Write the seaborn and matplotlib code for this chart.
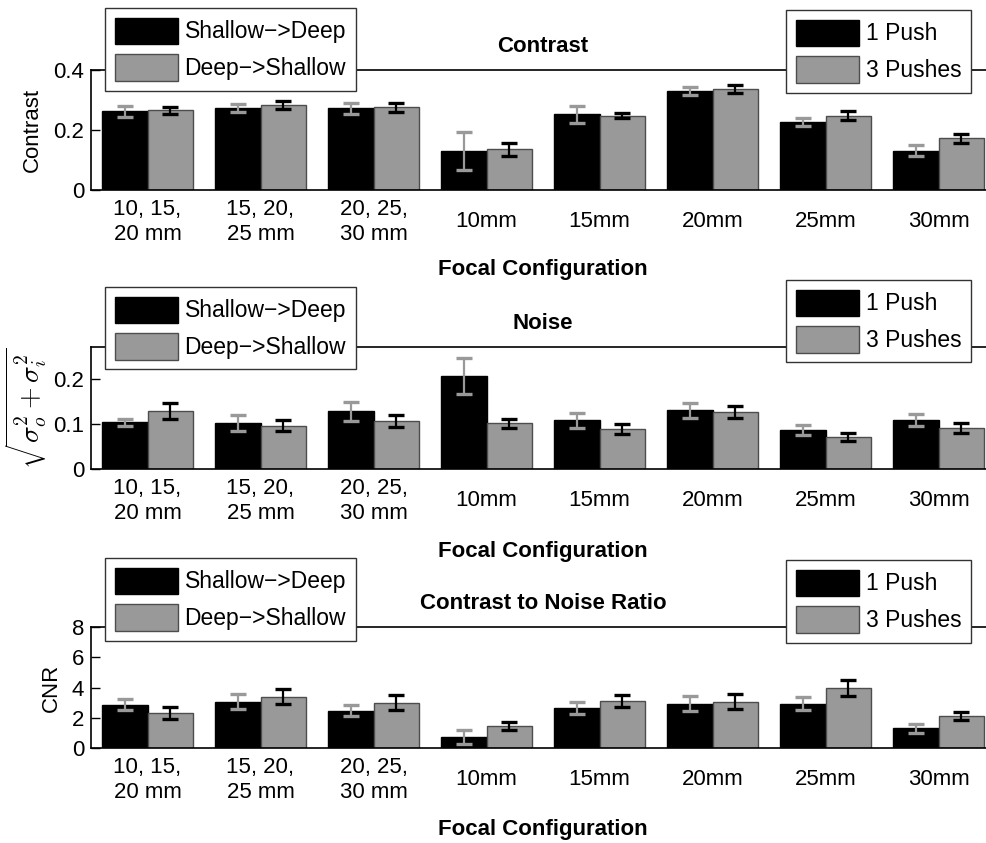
import numpy as np
import pandas as pd
import matplotlib
matplotlib.use("Agg")
import matplotlib.pyplot as plt
from matplotlib.patches import Patch
import seaborn as sns

# ---------------- data ----------------
categories = ['10, 15,\n20 mm', '15, 20,\n25 mm', '20, 25,\n30 mm',
              '10mm', '15mm', '20mm', '25mm', '30mm']

contrast_black = [0.263, 0.274, 0.272, 0.131, 0.252, 0.330, 0.226, 0.131]
contrast_black_err = [0.018, 0.013, 0.018, 0.064, 0.027, 0.013, 0.013, 0.019]
contrast_gray = [0.266, 0.283, 0.276, 0.136, 0.248, 0.337, 0.248, 0.172]
contrast_gray_err = [0.011, 0.013, 0.015, 0.022, 0.009, 0.014, 0.016, 0.014]

noise_black = [0.103, 0.102, 0.128, 0.205, 0.108, 0.130, 0.086, 0.109]
noise_black_err = [0.0074, 0.017, 0.021, 0.040, 0.017, 0.017, 0.011, 0.013]
noise_gray = [0.128, 0.096, 0.106, 0.101, 0.089, 0.126, 0.071, 0.091]
noise_gray_err = [0.018, 0.013, 0.013, 0.010, 0.011, 0.014, 0.0085, 0.011]

cnr_black = [2.85, 3.07, 2.46, 0.72, 2.65, 2.94, 2.92, 1.29]
cnr_black_err = [0.37, 0.52, 0.36, 0.45, 0.38, 0.52, 0.42, 0.30]
cnr_gray = [2.32, 3.38, 3.00, 1.45, 3.11, 3.07, 3.97, 2.13]
cnr_gray_err = [0.39, 0.49, 0.48, 0.26, 0.37, 0.47, 0.52, 0.27]

titles = ['Contrast', 'Noise', 'Contrast to Noise Ratio']
ylabels = ['Contrast', r'$\sqrt{\sigma_o^2+\sigma_i^2}$', 'CNR']
xlabel = 'Focal Configuration'
yticks = [[0, 0.2, 0.4], [0, 0.1, 0.2], [0, 2, 4, 6, 8]]
yticklabels = [['0', '0.2', '0.4'], ['0', '0.1', '0.2'], ['0', '2', '4', '6', '8']]
ylims = [(0, 0.4), (0, 0.27), (0, 8)]
legend_left_labels = ['Shallow\u2212>Deep', 'Deep\u2212>Shallow']
legend_right_labels = ['1 Push', '3 Pushes']
series_names = ['black', 'gray']

panels = [
    (contrast_black, contrast_black_err, contrast_gray, contrast_gray_err),
    (noise_black, noise_black_err, noise_gray, noise_gray_err),
    (cnr_black, cnr_black_err, cnr_gray, cnr_gray_err),
]

# ---------------- style ----------------
sns.set_style('white')
plt.rcParams['font.family'] = ['Liberation Sans', 'DejaVu Sans']
plt.rcParams['mathtext.fontset'] = 'cm'
for key in ['text.color', 'axes.labelcolor', 'xtick.color', 'ytick.color']:
    plt.rcParams[key] = 'black'

BLACK = '#000000'
GRAY = '#999999'
GRAY_EDGE = '#4d4d4d'

TICK_FS = 16
LEG_FS = 16.5
TITLE_FS = 16

W, H = 987, 843
fig = plt.figure(figsize=(W / 100, H / 100), dpi=100)

# axes boxes in pixels: (left, top, width, height)
ax_boxes = [(91, 70, 904, 120), (91, 347, 904, 122), (91, 627, 904, 121)]
# legend top y (pixels)
leg_left_top = [8, 287, 558]
leg_right_top = [10, 280, 560]
xlabel_offset = [80, 82, 81]
ylabel_x = [32, 26, 51]
ylabel_fs = [16, 20, 16]

for k, (bv, be, gv, ge) in enumerate(panels):
    l, t, w, h = ax_boxes[k]
    ax = fig.add_axes([l / W, 1 - (t + h) / H, w / W, h / H])
    df = pd.DataFrame({
        'cat': categories * 2,
        'series': [series_names[0]] * len(categories) + [series_names[1]] * len(categories),
        'value': list(bv) + list(gv),
    })
    sns.barplot(data=df, x='cat', y='value', hue='series', order=categories,
                hue_order=series_names, palette={'black': BLACK, 'gray': GRAY},
                errorbar=None, width=0.8, saturation=1, legend=False, ax=ax,
                linewidth=1.0)
    for cont, ec in zip(ax.containers, [BLACK, GRAY_EDGE]):
        for p in cont:
            p.set_edgecolor(ec)
            p.set_linewidth(1.0)
    # error bars
    for cont, vals, errs, col in zip(ax.containers, [bv, gv], [be, ge], [GRAY, BLACK]):
        xs = [p.get_x() + p.get_width() / 2 for p in cont]
        ax.errorbar(xs, vals, yerr=errs, fmt='none', ecolor=col, elinewidth=1.6,
                    capsize=5.5, capthick=2.4, zorder=5)

    ax.set_xlim(-0.5, len(categories) - 0.5)
    ax.set_ylim(*ylims[k])
    ax.set_yticks(yticks[k])
    ax.set_yticklabels(yticklabels[k], fontsize=TICK_FS)
    ax.set_xticks(range(len(categories)))
    ax.set_xticklabels(categories, fontsize=TICK_FS, va='center', linespacing=1.2)
    ax.tick_params(axis='x', length=0, pad=23)
    ax.tick_params(axis='y', direction='in', length=6.5, width=1.0, pad=5,
                   left=True, right=True, colors='black')
    for s in ax.spines.values():
        s.set_visible(True)
        s.set_color('black')
        s.set_linewidth(1.2)

    ax.set_title(titles[k], fontsize=TITLE_FS, fontweight='bold', pad=13)
    ax.set_xlabel(xlabel, fontsize=TITLE_FS, fontweight='bold')
    ax.xaxis.label.set_va('center')
    ax.xaxis.set_label_coords(0.5, -xlabel_offset[k] / h)
    ax.set_ylabel(ylabels[k], fontsize=ylabel_fs[k])
    ax.yaxis.label.set_va('center')
    ax.yaxis.set_label_coords((ylabel_x[k] - l) / w, 0.5)

    handles = [Patch(facecolor=BLACK, edgecolor=BLACK, linewidth=1.0),
               Patch(facecolor=GRAY, edgecolor=GRAY_EDGE, linewidth=1.0)]
    leg_kw = dict(fontsize=LEG_FS, frameon=True, fancybox=False, framealpha=1,
                  edgecolor='#333333', handlelength=2.75, handleheight=1.4,
                  labelspacing=0.45, borderpad=0.42, handletextpad=0.3,
                  borderaxespad=0, bbox_transform=fig.transFigure)
    leg1 = ax.legend(handles, legend_left_labels, loc='upper left',
                     bbox_to_anchor=(105 / W, 1 - leg_left_top[k] / H), **leg_kw)
    leg1.get_frame().set_linewidth(1.0)
    ax.add_artist(leg1)
    leg2 = ax.legend(handles, legend_right_labels, loc='upper right',
                     bbox_to_anchor=(971 / W, 1 - leg_right_top[k] / H), **leg_kw)
    leg2.get_frame().set_linewidth(1.0)

fig.savefig('out.png', dpi=100)
